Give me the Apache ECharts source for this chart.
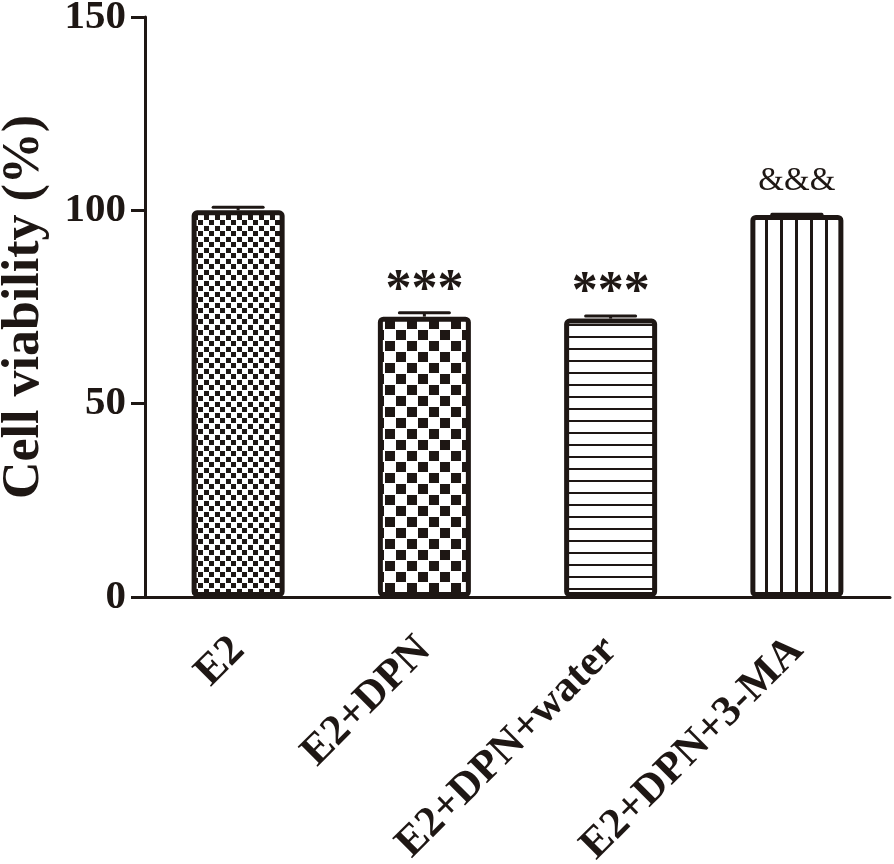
<!DOCTYPE html>
<html>
<head>
<meta charset="utf-8">
<script src="https://cdn.jsdelivr.net/npm/echarts@6/dist/echarts.min.js"></script>
<style>
html, body { margin: 0; padding: 0; background: #fff; }
#chart { width: 894px; height: 864px; }
</style>
</head>
<body>
<div id="chart"></div>
<script>
// data
var groups = ['E2', 'E2+DPN', 'E2+DPN+water', 'E2+DPN+3-MA'];
var viability = [100, 72.5, 72, 98.8];
var sem = [0.8, 1.0, 0.7, 0.2];
var marks = ['', '***', '***', '&&&'];
var yTicks = [0, 50, 100, 150];

var ink = '#1e1714';

// fill patterns for the four bars
function makePattern(w, h, draw) {
    var c = document.createElement('canvas');
    c.width = w; c.height = h;
    var ctx = c.getContext('2d');
    ctx.fillStyle = '#fff';
    ctx.fillRect(0, 0, w, h);
    ctx.fillStyle = ink;
    draw(ctx);
    return { image: c, repeat: 'repeat' };
}
var fills = [
    makePattern(11, 11, function (ctx) { ctx.fillRect(0, 0, 5, 5); ctx.fillRect(6, 6, 5, 5); }),
    makePattern(22, 22, function (ctx) { ctx.fillRect(0, 0, 10, 10); ctx.fillRect(11, 11, 10, 10); }),
    makePattern(12, 12, function (ctx) { ctx.fillRect(0, 0, 12, 2); }),
    makePattern(15, 15, function (ctx) { ctx.fillRect(0, 0, 3, 15); })
];

var serif = '"Liberation Serif", "Times New Roman", serif';

var myChart = echarts.init(document.getElementById('chart'));
myChart.setOption({
    animation: false,
    grid: { left: 145, right: 4, top: 17, bottom: 267, outerBoundsMode: 'none' },
    xAxis: {
        type: 'category',
        data: groups,
        axisLine: { lineStyle: { color: ink, width: 3 } },
        axisTick: { alignWithLabel: true, length: 16, lineStyle: { color: ink, width: 3 } },
        axisLabel: {
            rotate: 45, margin: 47, interval: 0,
            color: ink, fontFamily: serif, fontWeight: 'bold', fontSize: 43
        }
    },
    yAxis: {
        type: 'value',
        min: yTicks[0], max: yTicks[yTicks.length - 1], interval: 50,
        name: 'Cell viability (%)',
        nameLocation: 'middle',
        nameRotate: 90,
        nameGap: 94,
        nameTextStyle: { color: ink, fontFamily: serif, fontWeight: 'bold', fontSize: 52 },
        axisLine: { show: true, lineStyle: { color: ink, width: 3 } },
        axisTick: { show: true, length: 14, lineStyle: { color: ink, width: 3 } },
        axisLabel: { margin: 19, color: ink, fontFamily: serif, fontWeight: 'bold', fontSize: 41 },
        splitLine: { show: false }
    },
    series: [
        {
            type: 'bar',
            barWidth: 93,
            data: viability.map(function (v, i) {
                return { value: v, itemStyle: { color: fills[i] } };
            }),
            itemStyle: { borderColor: ink, borderWidth: 5, borderRadius: 3 },
            label: {
                show: true,
                position: 'top',
                distance: -1,
                formatter: function (p) {
                    var m = marks[p.dataIndex];
                    if (!m) return '';
                    return m === '&&&' ? '{amp|' + m + '}' : '{star|' + m + '}';
                },
                rich: {
                    star: { fontFamily: serif, fontWeight: 'bold', fontSize: 52, color: ink },
                    amp: { fontFamily: serif, fontSize: 33, color: ink, padding: [0, 0, 18, 0] }
                }
            }
        },
        {
            type: 'custom',
            z: 5,
            data: viability.map(function (v, i) { return [i, v, sem[i]]; }),
            renderItem: function (params, api) {
                var base = api.coord([api.value(0), api.value(1)]);
                var top = api.coord([api.value(0), api.value(1) + api.value(2)]);
                var hw = 25;
                return {
                    type: 'group',
                    children: [
                        { type: 'line', shape: { x1: base[0], y1: base[1], x2: base[0], y2: top[1] },
                          style: { stroke: ink, lineWidth: 3 } },
                        { type: 'line', shape: { x1: base[0] - hw, y1: top[1], x2: base[0] + hw, y2: top[1] },
                          style: { stroke: ink, lineWidth: 3, lineCap: 'round' } }
                    ]
                };
            }
        }
    ]
});
</script>
</body>
</html>
